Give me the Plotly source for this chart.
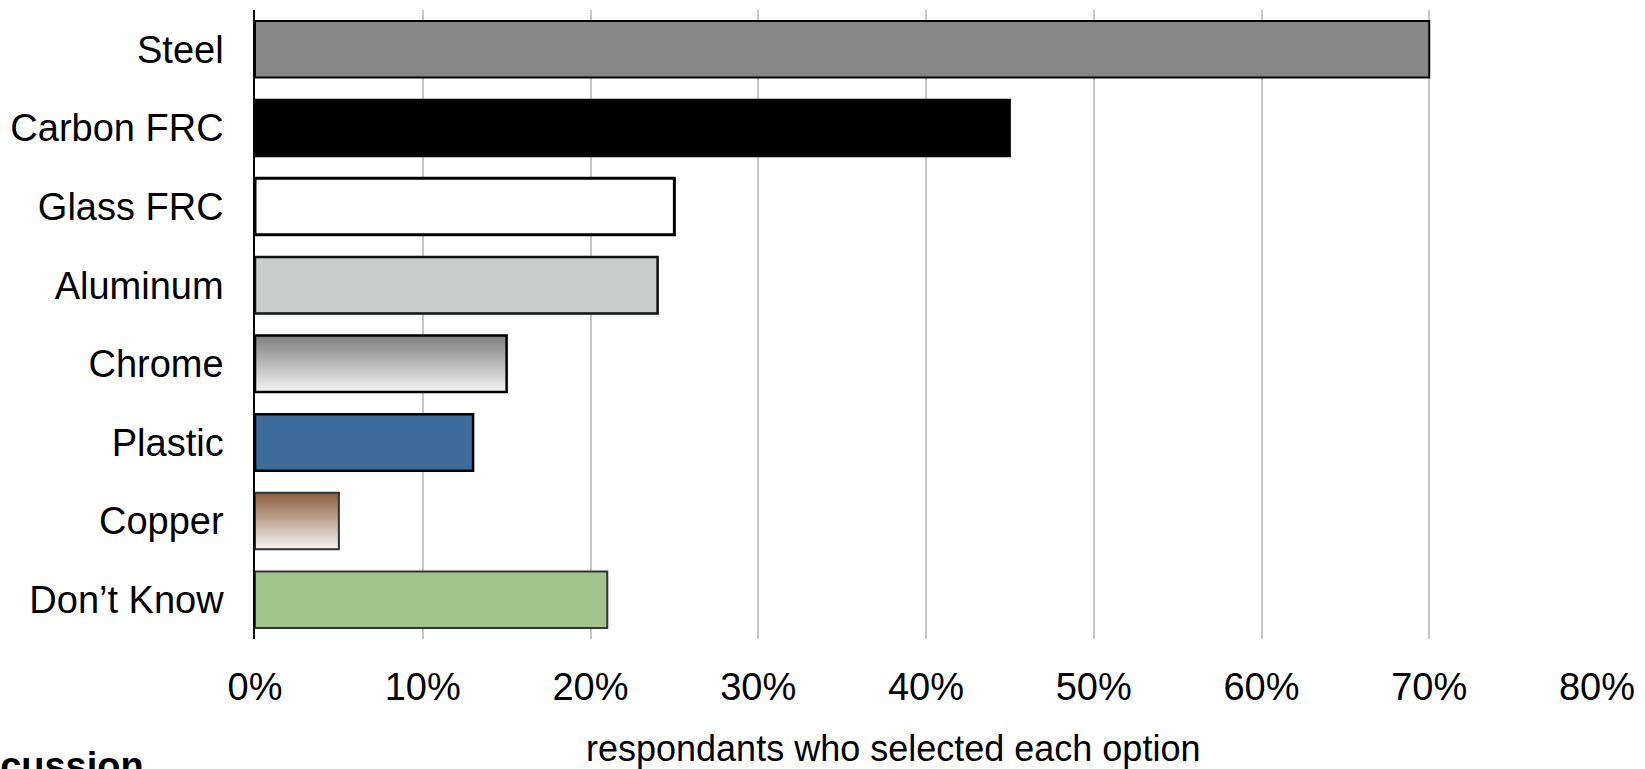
import plotly.graph_objects as go

# Survey results: preferred material, share of respondents (%)
categories = ["Steel", "Carbon FRC", "Glass FRC", "Aluminum", "Chrome", "Plastic", "Copper", "Don\u2019t Know"]
shares = [70, 45, 25, 24, 15, 13, 5, 21]

# Fill style per bar: solid colour, or a top-to-bottom gradient (top colour, bottom colour)
fills = ["#858685", "#000000", "#ffffff", "#cbcdcc", None, "#3d6b9b", None, "#a3c48c"]
gradients = {"Chrome": ("#7f7f7f", "#f4f4f4"), "Copper": ("#8b5d3b", "#f7f5f4")}
edge_colors = ["#000000", "#000000", "#000000", "#111111", "#000000", "#000000", "#333333", "#333333"]
edge_widths = [2, 2, 3, 2.5, 2.5, 2.5, 2, 2]

x_ticks = [0, 10, 20, 30, 40, 50, 60, 70, 80]
x_title = "respondants who selected each option"
footer_text = "Discussion"

FONT = "Liberation Sans, Arial, Helvetica, sans-serif"
BAR_W = 0.72

n = len(categories)
positions = [n - 1 - i for i in range(n)]  # first category at the top

fig = go.Figure()

fig.add_trace(go.Bar(
    x=shares,
    y=positions,
    orientation="h",
    width=BAR_W,
    marker=dict(
        color=[c if c is not None else "rgba(0,0,0,0)" for c in fills],
        line=dict(
            color=[ec if fills[i] is not None else "rgba(0,0,0,0)" for i, ec in enumerate(edge_colors)],
            width=edge_widths,
        ),
    ),
    showlegend=False,
    hoverinfo="skip",
))

# Gradient-filled bars drawn as closed outlines with a vertical fill gradient
for i, cat in enumerate(categories):
    if cat not in gradients:
        continue
    top_c, bot_c = gradients[cat]
    v = shares[i]
    p = positions[i]
    y0, y1 = p - BAR_W / 2, p + BAR_W / 2
    fig.add_trace(go.Scatter(
        x=[0, v, v, 0, 0],
        y=[y0, y0, y1, y1, y0],
        mode="lines",
        fill="toself",
        fillgradient=dict(type="vertical", colorscale=[[0, bot_c], [1, top_c]]),
        line=dict(color=edge_colors[i], width=edge_widths[i]),
        showlegend=False,
        hoverinfo="skip",
    ))

fig.update_layout(
    width=1645,
    height=769,
    margin=dict(l=255, r=45, t=10, b=130),
    paper_bgcolor="white",
    plot_bgcolor="white",
    font=dict(family=FONT, size=38, color="#000000"),
    showlegend=False,
    xaxis=dict(
        range=[0, 80],
        tickvals=x_ticks,
        ticktext=[f"{t}%" for t in x_ticks],
        showgrid=True,
        gridcolor="#c6c6c6",
        gridwidth=1.5,
        zeroline=False,
        showline=False,
        ticks="",
        ticklabelstandoff=22,
        tickfont=dict(family=FONT, size=38, color="#000000"),
    ),
    yaxis=dict(
        range=[-0.5, n - 0.5],
        tickvals=positions,
        ticktext=categories,
        showgrid=False,
        zeroline=False,
        showline=True,
        linecolor="#000000",
        linewidth=1.5,
        ticks="",
        ticklabelstandoff=22,
        tickfont=dict(family=FONT, size=38, color="#000000"),
    ),
    annotations=[
        dict(
            text=x_title,
            xref="paper", yref="paper",
            x=(894 - 255) / 1345, y=(639 - 748) / 629,
            xanchor="center", yanchor="middle",
            showarrow=False,
            font=dict(family=FONT, size=36, color="#000000"),
        ),
        dict(
            text=f"<b>{footer_text}</b>",
            xref="paper", yref="paper",
            x=(-62 - 255) / 1345, y=(639 - 766) / 629,
            xanchor="left", yanchor="middle",
            showarrow=False,
            font=dict(family=FONT, size=38, color="#000000"),
        ),
    ],
)

fig.write_html("out.html")
